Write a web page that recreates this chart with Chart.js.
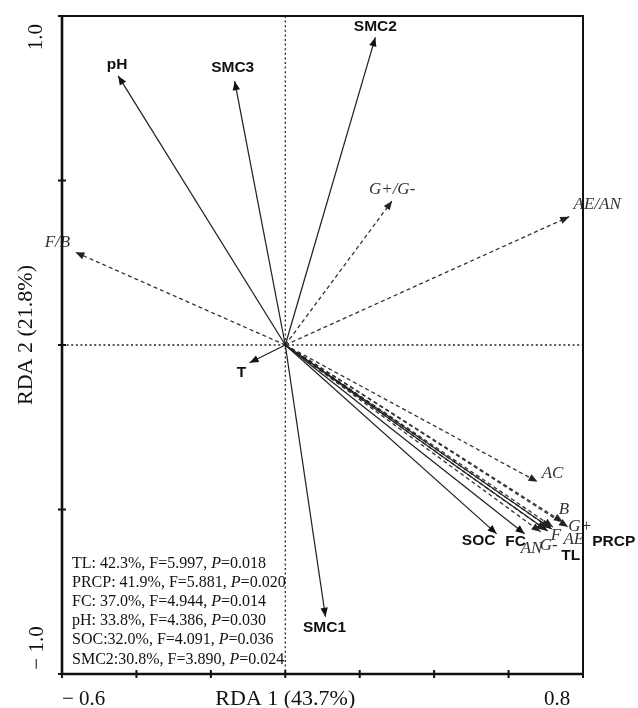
<!DOCTYPE html>
<html>
<head>
<meta charset="utf-8">
<script src="https://cdn.jsdelivr.net/npm/chart.js@4"></script>
<style>
  html, body { margin: 0; padding: 0; background: #fff; }
  #wrap { width: 638px; height: 708px; }
</style>
</head>
<body>
<div id="wrap"><canvas id="c" width="638" height="708"></canvas></div>
<script>
// ---- Data ----
const envNames = ['pH', 'SMC3', 'SMC2', 'T', 'SMC1', 'SOC', 'FC', 'TL', 'PRCP'];
const envRDA1  = [-0.449, -0.136, 0.242, -0.096, 0.108, 0.568, 0.643, 0.705, 0.716];
const envRDA2  = [0.818, 0.802, 0.935, -0.054, -0.826, -0.574, -0.574, -0.565, -0.559];

const respNames = ['F/B', 'G+/G-', 'AE/AN', 'AC', 'B', 'G+', 'G-', 'F', 'AE', 'AN'];
const respRDA1  = [-0.564, 0.287, 0.763, 0.678, 0.746, 0.760, 0.700, 0.711, 0.719, 0.686];
const respRDA2  = [0.282, 0.438, 0.390, -0.416, -0.538, -0.553, -0.562, -0.556, -0.553, -0.568];

const xTickLabels = ['\u2212 0.6', '0.8'];
const yTickLabels = ['1.0', '\u2212 1.0'];
const xTitle = 'RDA 1 (43.7%)';
const yTitle = 'RDA 2 (21.8%)';

const statLabels  = ['TL: ', 'PRCP: ', 'FC: ', 'pH: ', 'SOC:', 'SMC2:'];
const statExplain = ['42.3', '41.9', '37.0', '33.8', '32.0', '30.8'];
const statF       = ['5.997', '5.881', '4.944', '4.386', '4.091', '3.890'];
const statP       = ['0.018', '0.020', '0.014', '0.030', '0.036', '0.024'];

// ---- Label placement (pixel offsets from arrow tips; style only) ----
const envLabelOffset = [[-1,-11],[-2,-13],[0,-11],[-8,10],[-1,11],[-18,7],[-9,8],[23,25],[62,13]];
const respLabelOffset = [[-18,-10],[0,-11],[28,-12],[15,-8],[1,-12],[12,0],[3,16],[6,8],[21,13],[-9,17]];

const datasets = [];
envNames.forEach((n, i) => {
  datasets.push({
    label: n, kind: 'env', idx: i,
    data: [{x: 0, y: 0}, {x: envRDA1[i], y: envRDA2[i]}],
    showLine: true, pointRadius: 0, borderColor: '#222', borderWidth: 1.25
  });
});
respNames.forEach((n, i) => {
  datasets.push({
    label: n, kind: 'resp', idx: i,
    data: [{x: 0, y: 0}, {x: respRDA1[i], y: respRDA2[i]}],
    showLine: true, pointRadius: 0, borderColor: '#333', borderWidth: 1.3,
    borderDash: [4, 3]
  });
});

const SERIF = '"Liberation Serif", "Times New Roman", serif';
const SANS = '"Liberation Sans", Arial, sans-serif';

const biplot = {
  id: 'biplot',
  beforeDatasetsDraw(chart) {
    const {ctx, chartArea: a, scales: {x, y}} = chart;
    const x0 = x.getPixelForValue(0), y0 = y.getPixelForValue(0);
    ctx.save();
    ctx.strokeStyle = '#222';
    ctx.lineWidth = 1.3;
    ctx.setLineDash([2, 2.6]);
    ctx.beginPath();
    ctx.moveTo(x0, a.top); ctx.lineTo(x0, a.bottom);
    ctx.moveTo(a.left, y0); ctx.lineTo(a.right, y0);
    ctx.stroke();
    ctx.restore();
  },
  afterDatasetsDraw(chart) {
    const {ctx, chartArea: a, scales: {x, y}} = chart;
    ctx.save();
    // arrowheads + labels
    chart.data.datasets.forEach((ds, di) => {
      const meta = chart.getDatasetMeta(di);
      const p0 = meta.data[0], p1 = meta.data[1];
      const ang = Math.atan2(p1.y - p0.y, p1.x - p0.x);
      const L = 9, W = 3.7;
      ctx.fillStyle = ds.kind === 'env' ? '#111' : '#222';
      ctx.beginPath();
      ctx.moveTo(p1.x, p1.y);
      ctx.lineTo(p1.x - L * Math.cos(ang) + W * Math.sin(ang), p1.y - L * Math.sin(ang) - W * Math.cos(ang));
      ctx.lineTo(p1.x - L * Math.cos(ang) - W * Math.sin(ang), p1.y - L * Math.sin(ang) + W * Math.cos(ang));
      ctx.closePath();
      ctx.fill();
      const off = ds.kind === 'env' ? envLabelOffset[ds.idx] : respLabelOffset[ds.idx];
      ctx.textAlign = 'center';
      ctx.textBaseline = 'middle';
      if (ds.kind === 'env') {
        ctx.font = 'bold 15.5px ' + SANS;
        ctx.fillStyle = '#111';
      } else {
        ctx.font = 'italic 17px ' + SERIF;
        ctx.fillStyle = '#333';
      }
      ctx.fillText(ds.label, p1.x + off[0], p1.y + off[1]);
    });

    // frame
    ctx.strokeStyle = '#111';
    ctx.setLineDash([]);
    ctx.lineWidth = 2;
    ctx.beginPath();
    ctx.moveTo(a.left, a.top); ctx.lineTo(a.right, a.top); ctx.lineTo(a.right, a.bottom);
    ctx.stroke();
    ctx.lineWidth = 2.6;
    ctx.beginPath();
    ctx.moveTo(a.left, a.top - 1); ctx.lineTo(a.left, a.bottom); ctx.lineTo(a.right + 1, a.bottom);
    ctx.stroke();
    // tick marks
    ctx.lineWidth = 2;
    ctx.beginPath();
    x.ticks.forEach(t => {
      const px = x.getPixelForValue(t.value);
      ctx.moveTo(px, a.bottom - 4); ctx.lineTo(px, a.bottom + 4);
    });
    y.ticks.forEach(t => {
      const py = y.getPixelForValue(t.value);
      ctx.moveTo(a.left - 4, py); ctx.lineTo(a.left + 4, py);
    });
    ctx.stroke();

    // tick labels & titles
    ctx.fillStyle = '#111';
    ctx.textBaseline = 'alphabetic';
    ctx.font = '21px ' + SERIF;
    ctx.textAlign = 'left';
    ctx.fillText(xTickLabels[0], a.left, 705);
    ctx.textAlign = 'center';
    ctx.fillText(xTickLabels[1], x.getPixelForValue(0.8) - 26, 705);

    const rot = (txt, cx, cy) => {
      ctx.save();
      ctx.translate(cx + 7, cy);
      ctx.rotate(-Math.PI / 2);
      ctx.textAlign = 'center';
      ctx.fillText(txt, 0, 0);
      ctx.restore();
    };
    rot(yTickLabels[0], 35, y.getPixelForValue(1) + 21);
    rot(yTickLabels[1], 36, y.getPixelForValue(-1) - 26);

    ctx.font = '22px ' + SERIF;
    ctx.textAlign = 'center';
    ctx.fillText(xTitle, x.getPixelForValue(0), 705);
    rot(yTitle, 25, y.getPixelForValue(0) - 10);

    // statistics box
    ctx.textAlign = 'left';
    ctx.textBaseline = 'alphabetic';
    const lh = 19.2;
    statLabels.forEach((lab, i) => {
      let cx = a.left + 10;
      const by = 567.5 + i * lh;
      ctx.font = '16px ' + SERIF;
      const s1 = lab + statExplain[i] + '%, F=' + statF[i] + ', ';
      ctx.fillText(s1, cx, by);
      cx += ctx.measureText(s1).width;
      ctx.font = 'italic 16px ' + SERIF;
      ctx.fillText('P', cx, by);
      cx += ctx.measureText('P').width;
      ctx.font = '16px ' + SERIF;
      ctx.fillText('=' + statP[i], cx, by);
    });
    ctx.restore();
  }
};

new Chart(document.getElementById('c'), {
  type: 'scatter',
  data: { datasets },
  options: {
    responsive: false,
    animation: false,
    events: [],
    layout: { padding: { left: 62, right: 55, top: 16, bottom: 34 } },
    plugins: { legend: { display: false }, tooltip: { enabled: false }, title: { display: false } },
    scales: {
      x: { type: 'linear', min: -0.6, max: 0.8, display: false, ticks: { stepSize: 0.2 } },
      y: { type: 'linear', min: -1, max: 1, display: false, ticks: { stepSize: 0.5 } }
    }
  },
  plugins: [biplot]
});
</script>
</body>
</html>
